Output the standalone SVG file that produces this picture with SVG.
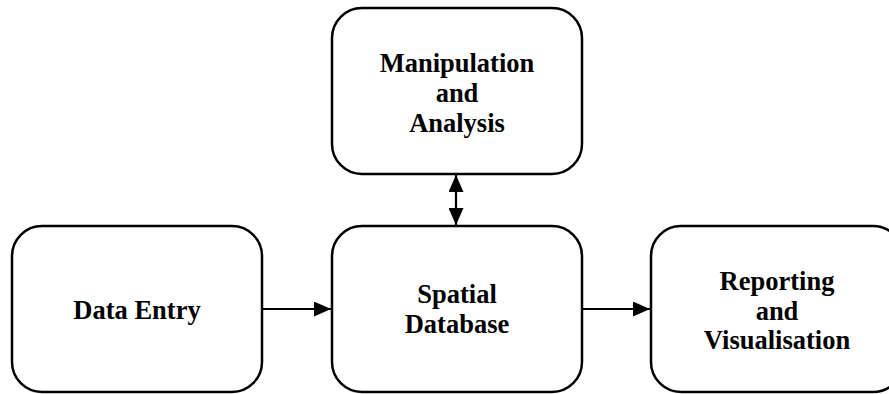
<svg xmlns="http://www.w3.org/2000/svg" width="889" height="394" viewBox="0 0 889 394">
<style>
.box{fill:#fff;stroke:#000;stroke-width:2.5}
.lbl{font-family:"Liberation Serif","Times New Roman",serif;font-weight:bold;font-size:26.5px;fill:#000;text-anchor:middle}
.conn{stroke:#000;stroke-width:2.2;fill:none}
</style>
<defs>
<marker id="ah" markerWidth="17" markerHeight="15" refX="17" refY="7.5" orient="auto-start-reverse" markerUnits="userSpaceOnUse">
<path d="M0,0 L17,7.5 L0,15 Z" fill="#000"/>
</marker>
</defs>
<rect width="889" height="394" fill="#fff"/>
<g id="connectors">
<line class="conn" x1="262" y1="309" x2="331" y2="309" marker-end="url(#ah)"/>
<line class="conn" x1="582" y1="309" x2="650" y2="309" marker-end="url(#ah)"/>
<line class="conn" x1="456" y1="175" x2="456" y2="225" marker-start="url(#ah)" marker-end="url(#ah)"/>
</g>
<g id="manipulation">
<rect class="box" x="332" y="8" width="250" height="166" rx="30"/>
<text class="lbl" x="457" y="72">Manipulation</text>
<text class="lbl" x="457" y="102">and</text>
<text class="lbl" x="457" y="132">Analysis</text>
</g>
<g id="data-entry">
<rect class="box" x="12" y="226" width="250" height="166" rx="30"/>
<text class="lbl" x="137" y="319">Data Entry</text>
</g>
<g id="spatial-database">
<rect class="box" x="332" y="226" width="250" height="166" rx="30"/>
<text class="lbl" x="457" y="303">Spatial</text>
<text class="lbl" x="457" y="333">Database</text>
</g>
<g id="reporting">
<rect class="box" x="651" y="226" width="252" height="166" rx="30"/>
<text class="lbl" x="777" y="290">Reporting</text>
<text class="lbl" x="777" y="320">and</text>
<text class="lbl" x="777" y="349">Visualisation</text>
</g>
</svg>
